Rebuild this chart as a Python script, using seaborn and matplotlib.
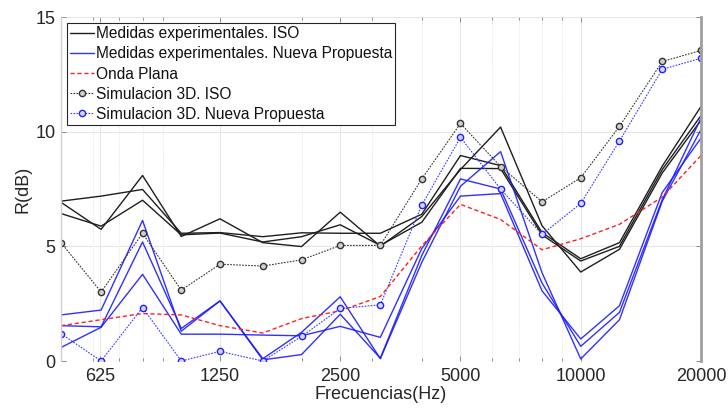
import numpy as np
import pandas as pd
import matplotlib
matplotlib.use("Agg")
import matplotlib.pyplot as plt
from matplotlib.ticker import FixedLocator, LogLocator, NullFormatter, FixedFormatter
import seaborn as sns

freqs = [500, 630, 800, 1000, 1250, 1600, 2000, 2500, 3150, 4000,
         5000, 6300, 8000, 10000, 12500, 16000, 20000]

iso_1 = [6.97, 7.19, 7.48, 5.57, 5.60, 5.42, 5.59, 5.57, 5.57, 6.40,
         8.96, 8.52, 5.60, 4.46, 5.16, 8.50, 11.10]
iso_2 = [6.92, 5.74, 8.09, 5.43, 6.20, 5.16, 4.99, 6.49, 5.01, 6.30,
         8.35, 10.20, 5.90, 3.88, 4.87, 8.20, 10.50]
iso_3 = [6.43, 5.88, 7.01, 5.50, 5.58, 5.19, 5.42, 5.94, 5.04, 6.05,
         8.40, 8.39, 5.50, 4.36, 5.00, 8.35, 10.70]

np_1 = [2.01, 2.22, 6.13, 1.30, 2.62, 0.10, 1.25, 2.80, 0.10, 4.30,
        7.62, 9.13, 3.85, 0.09, 1.80, 6.97, 10.09]
np_2 = [1.54, 1.49, 5.19, 1.42, 2.62, 0.05, 0.28, 2.04, 0.12, 4.60,
        7.94, 7.50, 3.40, 0.64, 2.12, 7.04, 10.59]
np_3 = [0.59, 1.47, 3.78, 1.17, 1.17, 1.13, 1.10, 1.51, 1.03, 4.90,
        7.19, 7.30, 3.06, 0.96, 2.41, 7.35, 9.72]

onda_plana = [1.54, 1.80, 2.07, 2.01, 1.54, 1.22, 1.85, 2.19, 2.81, 5.02,
              6.83, 6.17, 4.85, 5.33, 5.96, 7.15, 8.96]

sim_iso = [5.16, 3.01, 5.57, 3.09, 4.22, 4.14, 4.41, 5.04, 5.04, 7.94,
           10.36, 8.48, 6.94, 7.99, 10.23, 13.06, 13.54]
sim_np = [1.19, 0.00, 2.33, 0.00, 0.42, 0.00, 1.07, 2.29, 2.45, 6.80,
          9.75, 7.50, 5.52, 6.87, 9.59, 12.72, 13.20]

xtick_vals = [625, 1250, 2500, 5000, 10000, 20000]
xtick_labels = ["625", "1250", "2500", "5000", "10000", "20000"]
ytick_vals = [0, 5, 10, 15]

sns.set_theme(style="white")
plt.rcParams["font.family"] = ["Liberation Sans", "DejaVu Sans"]

fig = plt.figure(figsize=(7.28, 4.09), dpi=100)
ax = fig.add_axes([61 / 728, 1 - 361 / 409, 640 / 728, 344 / 409])

black = "#1e1e1e"
blue = "#1a1aff"

for i, vals in enumerate([iso_1, iso_2, iso_3]):
    sns.lineplot(x=freqs, y=vals, ax=ax, color=black, linewidth=1.0,
                 label="Medidas experimentales. ISO" if i == 0 else "_nolegend_")
for i, vals in enumerate([np_1, np_2, np_3]):
    sns.lineplot(x=freqs, y=vals, ax=ax, color=blue, linewidth=1.0, alpha=0.9,
                 label="Medidas experimentales. Nueva Propuesta" if i == 0 else "_nolegend_")
sns.lineplot(x=freqs, y=onda_plana, ax=ax, color="#ff2020", linewidth=1.0,
             linestyle=(0, (3, 2)), label="Onda Plana")
sns.lineplot(x=freqs, y=sim_iso, ax=ax, color="#333333", linewidth=0.8,
             linestyle=(0, (1.5, 1.2)), marker="o", markersize=4.5,
             markerfacecolor="#cfcfcf", markeredgecolor="#333333", markeredgewidth=1.0,
             label="Simulacion 3D. ISO")
sns.lineplot(x=freqs, y=sim_np, ax=ax, color="#3a3aff", linewidth=0.8,
             linestyle=(0, (1.5, 1.2)), marker="o", markersize=4.5,
             markerfacecolor="#d6d6ff", markeredgecolor="#2020ff", markeredgewidth=1.0,
             label="Simulacion 3D. Nueva Propuesta")

ax.set_xscale("log")
ax.set_xlim(500, 20000)
ax.set_ylim(0, 15)
ax.xaxis.set_major_locator(FixedLocator(xtick_vals))
ax.xaxis.set_major_formatter(FixedFormatter(xtick_labels))
ax.xaxis.set_minor_locator(LogLocator(base=10, subs=np.arange(2, 10)))
ax.xaxis.set_minor_formatter(NullFormatter())
ax.set_yticks(ytick_vals)
ax.set_yticklabels([str(v) for v in ytick_vals])

ax.grid(True, which="major", axis="both", color="#e6e6e6", linewidth=0.8, linestyle="-")
ax.grid(True, which="minor", axis="x", color="#dddddd", linewidth=0.6, linestyle=(0, (1, 1.5)))
ax.set_axisbelow(True)

ax.tick_params(axis="both", which="both", direction="in", top=True, right=True,
               bottom=True, left=True, colors="#8c8c8c", labelcolor="#262626",
               labelsize=13, length=3.5, width=0.7)
ax.tick_params(axis="x", which="minor", length=2.5)
ax.tick_params(axis="x", pad=5)
ax.tick_params(axis="y", pad=4)

for s in ["top", "bottom"]:
    ax.spines[s].set_visible(False)
ax.spines["left"].set_color("#d0d0d0")
ax.spines["left"].set_linewidth(1.0)
ax.spines["right"].set_color("#a0a0a0")
ax.spines["right"].set_linewidth(2.0)

ax.set_xlabel("Frecuencias(Hz)", fontsize=13, color="#262626", labelpad=1)
ax.set_ylabel("R(dB)", fontsize=13, color="#262626", labelpad=3)

leg = ax.legend(loc="upper left", fontsize=11.2, frameon=True, fancybox=False,
                edgecolor="#262626", framealpha=1.0, borderaxespad=0.4,
                handlelength=1.5, handletextpad=0.15, labelspacing=0.33,
                borderpad=0.2)
leg.get_frame().set_linewidth(0.8)
for t in leg.get_texts():
    t.set_color("#111111")

fig.savefig("out.png", dpi=100)
